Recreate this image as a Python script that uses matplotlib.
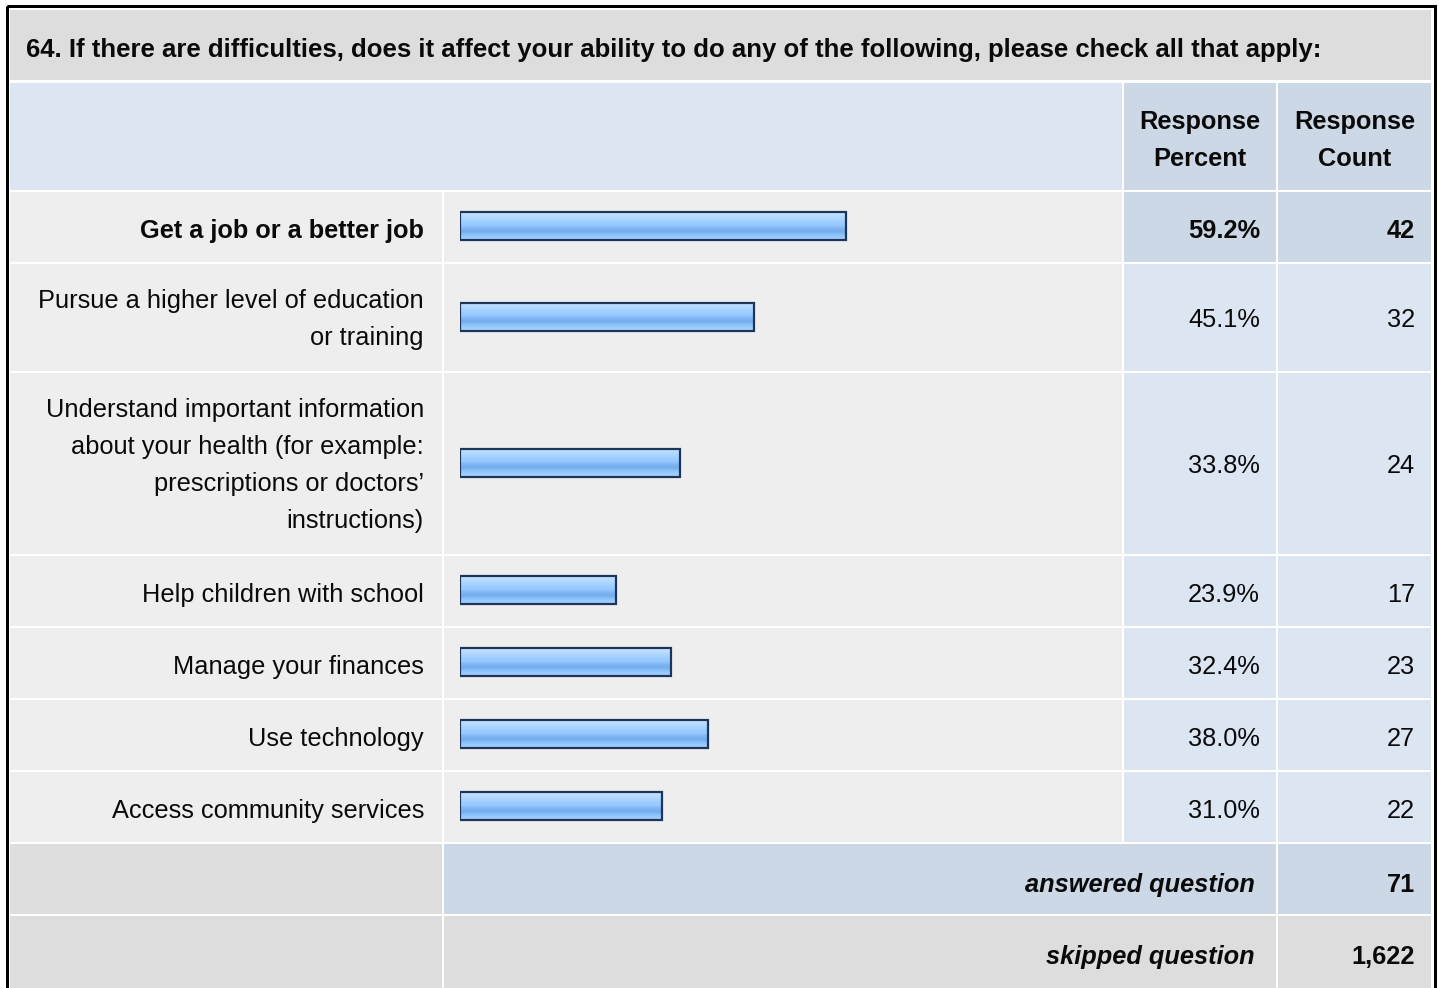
import numpy as np
import matplotlib
matplotlib.use("Agg")
import matplotlib.pyplot as plt
from matplotlib.patches import Rectangle
from matplotlib.colors import LinearSegmentedColormap

plt.rcParams['font.family'] = ['Liberation Sans', 'DejaVu Sans']

# ---- survey data ----
question = ("64. If there are difficulties, does it affect your ability to do any of "
            "the following, please check all that apply:")
options = [
    "Get a job or a better job",
    "Pursue a higher level of education\nor training",
    "Understand important information\nabout your health (for example:\nprescriptions or doctors\u2019\ninstructions)",
    "Help children with school",
    "Manage your finances",
    "Use technology",
    "Access community services",
]
percents = [59.2, 45.1, 33.8, 23.9, 32.4, 38.0, 31.0]
counts = [42, 32, 24, 17, 23, 27, 22]
answered = 71
skipped = 1622

# ---- layout (pixels) ----
W, H = 1440, 988
DPI = 100
PX = 72.0 / DPI            # points per pixel
FS = 25.4 * PX              # body font size
LS = 1.70                   # line spacing for wrapped labels
DY = 4                      # baseline nudge for text inside cells

col_x = [10, 444, 1124, 1278, 1431]   # label | bar | percent | count
gap = 2
title_y = (10, 80)
head_y = (83, 190)
line_h = 37
row_y0 = 192

GRAY_D = "#DDDDDD"
GRAY_L = "#EEEEEE"
BLUE_L = "#DCE6F3"
BLUE_D = "#CCD8E6"
TXT = "#0A0A0A"

fig = plt.figure(figsize=(W / DPI, H / DPI), dpi=DPI)
fig.patch.set_facecolor("white")
ax = fig.add_axes([0, 0, 1, 1])
ax.set_xlim(0, W)
ax.set_ylim(H, 0)
ax.axis("off")


def cell(x0, x1, y0, y1, color):
    ax.add_patch(Rectangle((x0, y0), x1 - x0, y1 - y0, facecolor=color,
                           edgecolor="none", zorder=1))


# outer frame
ax.add_patch(Rectangle((6.5, 6.5), 1428, 1100, facecolor="none",
                       edgecolor="black", linewidth=3 * PX, zorder=5))

# title
cell(col_x[0], col_x[4], *title_y, GRAY_D)
ax.text(26, sum(title_y) / 2 + 5, question, ha="left", va="center",
        fontsize=FS * 1.015, fontweight="bold", color=TXT, zorder=3)

# header
cell(col_x[0], col_x[2] - gap, *head_y, BLUE_L)
cell(col_x[2], col_x[3] - gap, *head_y, BLUE_D)
cell(col_x[3], col_x[4], *head_y, BLUE_D)
hc = sum(head_y) / 2 + DY
for cx, word in [((col_x[2] + col_x[3] - gap) / 2, "Percent"),
                 ((col_x[3] + col_x[4]) / 2, "Count")]:
    ax.text(cx, hc, "Response\n" + word, ha="center", va="center",
            fontsize=FS, fontweight="bold", color=TXT, linespacing=LS,
            zorder=3)

# option rows
row_centers = []
y = row_y0
for i, (lab, pct, cnt) in enumerate(zip(options, percents, counts)):
    nlines = lab.count("\n") + 1
    h = 70 + line_h * (nlines - 1)
    y0, y1 = y, y + h
    hi = i == 0
    cell(col_x[0], col_x[1] - gap, y0, y1, GRAY_L)
    cell(col_x[1], col_x[2] - gap, y0, y1, GRAY_L)
    cell(col_x[2], col_x[3] - gap, y0, y1, BLUE_D if hi else BLUE_L)
    cell(col_x[3], col_x[4], y0, y1, BLUE_D if hi else BLUE_L)
    yc = (y0 + y1) / 2
    row_centers.append(yc - 1)
    fw = "bold" if hi else "normal"
    dy = DY if nlines == 1 else DY - 2
    ax.text(424, yc + dy, lab, ha="right", va="center", fontsize=FS,
            fontweight=fw, color=TXT, linespacing=LS, zorder=3)
    ax.text(1260, yc + dy, f"{pct:.1f}%", ha="right", va="center",
            fontsize=FS, fontweight=fw, color=TXT, zorder=3)
    ax.text(1415, yc + dy, f"{cnt}", ha="right", va="center",
            fontsize=FS, fontweight=fw, color=TXT, zorder=3)
    y = y1 + gap

# summary rows
ya0, ya1 = y, y + 70
cell(col_x[0], col_x[1] - gap, ya0, ya1, GRAY_D)
cell(col_x[1], col_x[3] - gap, ya0, ya1, BLUE_D)
cell(col_x[3], col_x[4], ya0, ya1, BLUE_D)
yac = (ya0 + ya1) / 2 + DY + 2
ax.text(1255, yac, "answered question", ha="right", va="center", fontsize=FS,
        fontweight="bold", fontstyle="italic", color=TXT, zorder=3)
ax.text(1415, yac, f"{answered:,}", ha="right", va="center", fontsize=FS,
        fontweight="bold", color=TXT, zorder=3)

ys0, ys1 = ya1 + gap, ya1 + gap + 90
cell(col_x[0], col_x[1] - gap, ys0, ys1, GRAY_D)
cell(col_x[1], col_x[3] - gap, ys0, ys1, GRAY_D)
cell(col_x[3], col_x[4], ys0, ys1, GRAY_D)
ysc = ys0 + 35 + DY + 2
ax.text(1255, ysc, "skipped question", ha="right", va="center", fontsize=FS,
        fontweight="bold", fontstyle="italic", color=TXT, zorder=3)
ax.text(1415, ysc, f"{skipped:,}", ha="right", va="center", fontsize=FS,
        fontweight="bold", color=TXT, zorder=3)

# ---- bar axes: 0-100 % across the bar column ----
bx0, bx1 = 460, 1112
bax = fig.add_axes([bx0 / W, 0, (bx1 - bx0) / W, 1])
bax.set_xlim(0, 100)
bax.set_ylim(H, 0)
bax.axis("off")
bax.patch.set_alpha(0)

grad = LinearSegmentedColormap.from_list("barglass", [
    (0.00, "#CBE5FF"), (0.15, "#B6DBFF"), (0.32, "#A2D0FF"),
    (0.48, "#94C8FF"), (0.58, "#80B8F4"), (0.70, "#74ACEC"),
    (0.82, "#8CC3FB"), (1.00, "#A9D4FF")])
bar_h = 28
for pct, yc in zip(percents, row_centers):
    bax.imshow(np.linspace(0, 1, 64).reshape(-1, 1), cmap=grad, aspect="auto",
               origin="upper", interpolation="bilinear",
               extent=(0, pct, yc + bar_h / 2, yc - bar_h / 2), zorder=2)
bax.barh(row_centers, percents, height=bar_h, left=0, facecolor="none",
         edgecolor="#1E355A", linewidth=2.2 * PX, zorder=3)
bax.set_xlim(0, 100)
bax.set_ylim(H, 0)

fig.savefig("out.png", dpi=DPI, facecolor="white")
